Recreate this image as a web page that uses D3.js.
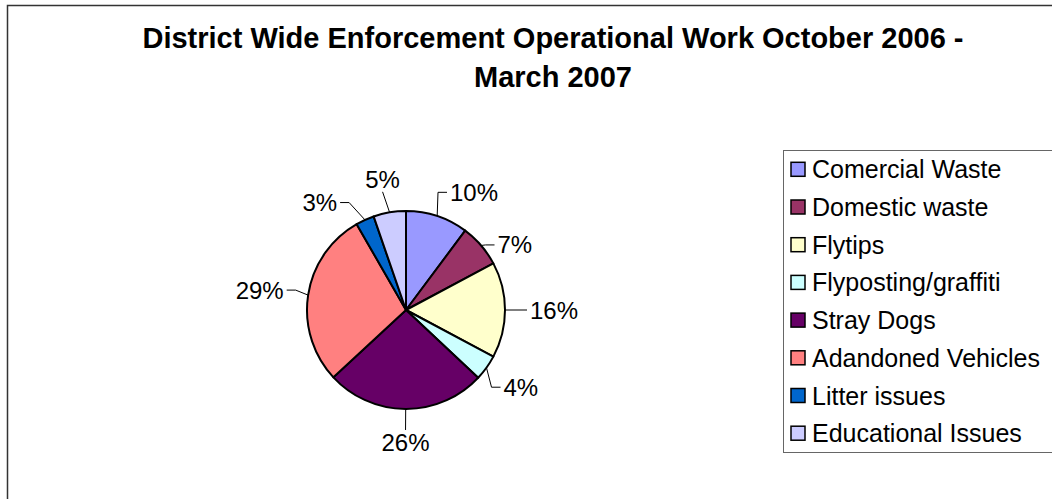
<!DOCTYPE html>
<html>
<head>
<meta charset="utf-8">
<script src="https://cdn.jsdelivr.net/npm/d3@7"></script>
<style>
  body { margin: 0; background: #fff; }
  svg { display: block; font-family: "Liberation Sans", Arial, sans-serif; }
</style>
</head>
<body>
<div id="chart"></div>
<script>
// data (share of work, %)
const categories = ['Comercial Waste', 'Domestic waste', 'Flytips', 'Flyposting/graffiti',
  'Stray Dogs', 'Adandoned Vehicles', 'Litter issues', 'Educational Issues'];
const shares = [10.2, 7.0, 15.6, 4.2, 26.1, 28.6, 3.0, 5.3];
const sliceColors = ['#9999FF', '#993366', '#FFFFCC', '#CCFFFF', '#660066', '#FF8080', '#0066CC', '#CCCCFF'];
const titleLines = ['District Wide Enforcement Operational Work October 2006 -', 'March 2007'];

const W = 1052, H = 499;
const cx = 406, cy = 310, r = 99;
// excel moved a few labels away from the slice middle to avoid collisions: [deg, px]
const labelNudge = { 'Comercial Waste': [9, 0], 'Domestic waste': [8, -12], 'Litter issues': [-12.5, 2] };

const svg = d3.select('#chart')
  .append('svg')
  .attr('width', W)
  .attr('height', H);

// chart area frame (runs off the right and bottom)
svg.append('rect')
  .attr('x', 7.5).attr('y', 5.5)
  .attr('width', 1100).attr('height', 600)
  .attr('fill', 'none')
  .attr('stroke', '#333')
  .attr('stroke-width', 1.5);

// title
svg.append('text')
  .attr('text-anchor', 'middle')
  .attr('font-weight', 'bold')
  .attr('font-size', 29)
  .selectAll('tspan')
  .data(titleLines)
  .enter()
  .append('tspan')
  .attr('x', 553)
  .attr('y', (_, i) => 48 + i * 39)
  .text(d => d);

const color = d3.scaleOrdinal().domain(categories).range(sliceColors);
const pie = d3.pie().sort(null).value(d => d.value);
const arcs = pie(categories.map((c, i) => ({ name: c, value: shares[i] })));
const arc = d3.arc().innerRadius(0).outerRadius(r);
const total = d3.sum(shares);

const g = svg.append('g').attr('transform', `translate(${cx},${cy})`);

g.selectAll('path.slice')
  .data(arcs)
  .enter()
  .append('path')
  .attr('class', 'slice')
  .attr('d', arc)
  .attr('fill', d => color(d.data.name))
  .attr('stroke', '#000')
  .attr('stroke-width', 2)
  .attr('stroke-linejoin', 'round');

// data labels + leader lines
const fontSize = 24, capH = 17;
const labels = g.selectAll('g.label')
  .data(arcs)
  .enter()
  .append('g')
  .attr('class', 'label');

labels.each(function (d) {
  const sel = d3.select(this);
  const mid = (d.startAngle + d.endAngle) / 2;
  const nudge = labelNudge[d.data.name] || [0, 0];
  const th = mid + nudge[0] * Math.PI / 180;
  const R = r + 25 + nudge[1];
  const txt = sel.append('text')
    .attr('font-size', fontSize)
    .attr('text-anchor', 'middle')
    .text(Math.round(d.data.value / total * 100) + '%');
  const w = txt.node().getComputedTextLength();
  const ax = Math.sin(th) * R, ay = -Math.cos(th) * R;
  const tx = ax + Math.sin(th) * w / 2;
  const ty = ay - Math.cos(th) * capH / 2;
  txt.attr('x', tx).attr('y', ty + capH / 2);

  // leader from slice edge to the label
  const sx = Math.sin(mid) * r, sy = -Math.cos(mid) * r;
  let pts;
  if (Math.abs(Math.sin(th)) < 0.3) {
    const ey = Math.cos(th) > 0 ? ty + capH / 2 + 4 : ty - capH / 2 - 4;
    pts = [[sx, sy], [tx, ey]];
  } else {
    const side = Math.sin(th) > 0 ? -1 : 1;
    const ex = tx + side * (w / 2 + 3);
    pts = [[sx, sy], [ex + side * 9, ty], [ex, ty]];
  }
  sel.insert('path', 'text')
    .attr('d', d3.line()(pts))
    .attr('fill', 'none')
    .attr('stroke', '#000')
    .attr('stroke-width', 1);
});

// legend
const legend = svg.append('g').attr('transform', 'translate(783,150)');
legend.append('rect')
  .attr('x', 0.5).attr('y', 0.5)
  .attr('width', 320).attr('height', 302)
  .attr('fill', '#fff')
  .attr('stroke', '#666')
  .attr('stroke-width', 1);

const rows = legend.selectAll('g.row')
  .data(categories)
  .enter()
  .append('g')
  .attr('class', 'row')
  .attr('transform', (_, i) => `translate(0,${19.3 + i * 37.7})`);

rows.append('rect')
  .attr('x', 8).attr('y', -7)
  .attr('width', 14).attr('height', 14)
  .attr('fill', d => color(d))
  .attr('stroke', '#000')
  .attr('stroke-width', 1.5);

rows.append('text')
  .attr('x', 29)
  .attr('y', 9)
  .attr('font-size', 25)
  .text(d => d);
</script>
</body>
</html>
